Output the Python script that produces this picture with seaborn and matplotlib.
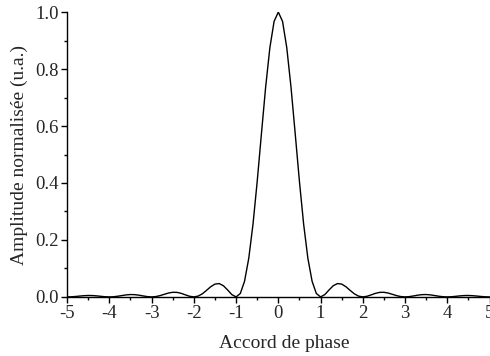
import numpy as np
import pandas as pd
import matplotlib
matplotlib.use("Agg")
import matplotlib.pyplot as plt
import seaborn as sns
from matplotlib.ticker import MultipleLocator

# Phase-matching response, sampled every 0.1
phase = [round(-5.0 + 0.1 * i, 1) for i in range(101)]
amplitude = [
    0.0000, 0.0004, 0.0015, 0.0030, 0.0043, 0.0050, 0.0047, 0.0036, 0.0020, 0.0006,
    0.0000, 0.0006, 0.0024, 0.0048, 0.0071, 0.0083, 0.0079, 0.0061, 0.0034, 0.0010,
    0.0000, 0.0012, 0.0045, 0.0091, 0.0136, 0.0162, 0.0159, 0.0125, 0.0072, 0.0022,
    0.0000, 0.0027, 0.0108, 0.0229, 0.0358, 0.0450, 0.0468, 0.0392, 0.0243, 0.0080,
    0.0000, 0.0119, 0.0547, 0.1353, 0.2546, 0.4053, 0.5728, 0.7368, 0.8751, 0.9675,
    1.0000,
    0.9675, 0.8751, 0.7368, 0.5728, 0.4053, 0.2546, 0.1353, 0.0547, 0.0119, 0.0000,
    0.0080, 0.0243, 0.0392, 0.0468, 0.0450, 0.0358, 0.0229, 0.0108, 0.0027, 0.0000,
    0.0022, 0.0072, 0.0125, 0.0159, 0.0162, 0.0136, 0.0091, 0.0045, 0.0012, 0.0000,
    0.0010, 0.0034, 0.0061, 0.0079, 0.0083, 0.0071, 0.0048, 0.0024, 0.0006, 0.0000,
    0.0006, 0.0020, 0.0036, 0.0047, 0.0050, 0.0043, 0.0030, 0.0015, 0.0004, 0.0000,
]

df = pd.DataFrame({"phase": phase, "amplitude": amplitude})

sns.set_style("ticks")
plt.rcParams["font.family"] = ["Liberation Serif", "DejaVu Serif"]

fig = plt.figure(figsize=(4.9, 3.56), dpi=100)
ax = fig.add_axes([0.137, 0.166, 0.862, 0.800])

sns.lineplot(data=df, x="phase", y="amplitude", ax=ax, color="black", linewidth=1.0)

ax.set_xlim(-5, 5)
ax.set_ylim(0, 1.0)
ax.xaxis.set_major_locator(MultipleLocator(1))
ax.xaxis.set_minor_locator(MultipleLocator(0.5))
ax.yaxis.set_major_locator(MultipleLocator(0.2))
ax.yaxis.set_minor_locator(MultipleLocator(0.1))
ax.xaxis.set_major_formatter(matplotlib.ticker.FuncFormatter(lambda v, p: f"{v:g}"))
ax.yaxis.set_major_formatter(matplotlib.ticker.FormatStrFormatter("%.1f"))

ax.tick_params(which="major", direction="out", length=4, width=1, labelsize=13.5, pad=2, color="black")
ax.tick_params(which="minor", direction="out", length=2.5, width=1, color="black")

for side in ("top", "right"):
    ax.spines[side].set_visible(False)
for side in ("left", "bottom"):
    ax.spines[side].set_linewidth(1.0)
    ax.spines[side].set_color("black")

ax.set_xlabel("Accord de phase", fontsize=14)
ax.xaxis.set_label_coords(0.515, -0.133, transform=ax.transAxes)
ax.xaxis.label.set_va("top")
ax.set_ylabel("Amplitude normalisée (u.a.)", fontsize=14, labelpad=5)

for lbl in ax.get_xticklabels() + ax.get_yticklabels():
    lbl.set_clip_on(False)

fig.savefig("out.png", dpi=100)
